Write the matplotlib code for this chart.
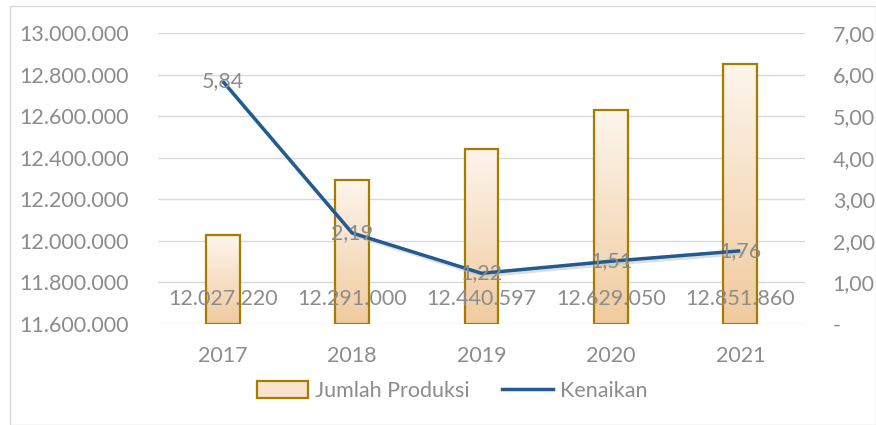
import matplotlib
matplotlib.use("Agg")
import matplotlib.pyplot as plt
import numpy as np
from matplotlib.patches import Rectangle
from matplotlib.lines import Line2D
from matplotlib.ticker import FuncFormatter

years = ["2017", "2018", "2019", "2020", "2021"]
produksi = [12027220, 12291000, 12440597, 12629050, 12851860]
kenaikan = [5.84, 2.19, 1.22, 1.51, 1.76]
left_ticks = [11600000, 11800000, 12000000, 12200000, 12400000, 12600000, 12800000, 13000000]
right_ticks = [0, 1, 2, 3, 4, 5, 6, 7]

plt.rcParams['font.family'] = ['Lato', 'DejaVu Sans']
gray = '#8c8c8c'
fs = 15.5

fig = plt.figure(figsize=(8.76, 4.25), dpi=100)
fig.patches.append(Rectangle((10/876, 0), 866/876, 1-6/425, transform=fig.transFigure,
                             fill=False, edgecolor='#d9d9d9', lw=1))
ax = fig.add_axes([158/876, 1-324/425, (805-158)/876, (324-33)/425])
ax2 = ax.twinx()

x = np.arange(len(years))

def fmt_dots(v, p=None):
    return f"{int(round(v)):,}".replace(",", ".")

ax.set_yticks(left_ticks)
ax.yaxis.set_major_formatter(FuncFormatter(fmt_dots))
ax2.set_yticks(right_ticks)
ax2.yaxis.set_major_formatter(FuncFormatter(lambda v, p: "-" if v == 0 else f"{v:.2f}".replace(".", ",")))

for a in (ax, ax2):
    for s in a.spines.values():
        s.set_visible(False)
    a.tick_params(length=0, labelsize=fs, labelcolor=gray)
ax.tick_params(axis='y', pad=21)
ax2.tick_params(axis='y', pad=20)
ax.tick_params(axis='x', pad=16)
ax.set_xticks(x)
ax.set_xticklabels(years)
ax.grid(axis='y', color='#d9d9d9', lw=1)
ax.set_axisbelow(True)

# gradient bars
width = 0.26
grad = np.linspace(0, 1, 256).reshape(-1, 1)
top = np.array([253, 245, 236]) / 255
bot = np.array([240, 203, 158]) / 255
img = top + (bot - top) * grad[:, :, None] * np.ones((1, 1, 3))
img = img.reshape(256, 1, 3)
for xi, v in zip(x, produksi):
    r = Rectangle((xi - width/2, 11600000), width, v - 11600000, facecolor='none',
                  edgecolor='#a67c00', lw=1.6, zorder=3)
    ax.add_patch(r)
    im = ax.imshow(img, extent=(xi - width/2, xi + width/2, 11600000, v), aspect='auto',
                   zorder=2, origin='upper')
    im.set_clip_path(r)
    ax.text(xi, 11720000, fmt_dots(v), ha='center', va='center', fontsize=fs, color=gray, zorder=6)
ax.set_xlim(-0.5, len(years)-0.5)
ax.set_ylim(11600000, 13000000)
ax2.set_ylim(0, 7)

ax2.plot(x + 0.02, np.array(kenaikan) - 0.06, color='#bfbfbf', lw=2.5, alpha=0.5, zorder=4)
ax2.plot(x, kenaikan, color='#215b8f', lw=2.5, zorder=5, solid_capstyle='butt')
for xi, v in zip(x, kenaikan):
    ax2.text(xi, v, f"{v:.2f}".replace(".", ","), ha='center', va='center', fontsize=fs,
             color=gray, zorder=6)

handles = [Rectangle((0, 0), 1, 1, facecolor='#f8e3cc', edgecolor='#a67c00', lw=1.6),
           Line2D([0], [0], color='#215b8f', lw=2.5)]
fig.legend(handles, ['Jumlah Produksi', 'Kenaikan'], loc='center', bbox_to_anchor=(452/876, 1-391/425),
           ncol=2, frameon=False, fontsize=fs, labelcolor=gray, handlelength=2.4, handleheight=0.85,
           handletextpad=0.3, columnspacing=1.5)

fig.savefig("out.png", dpi=100)
